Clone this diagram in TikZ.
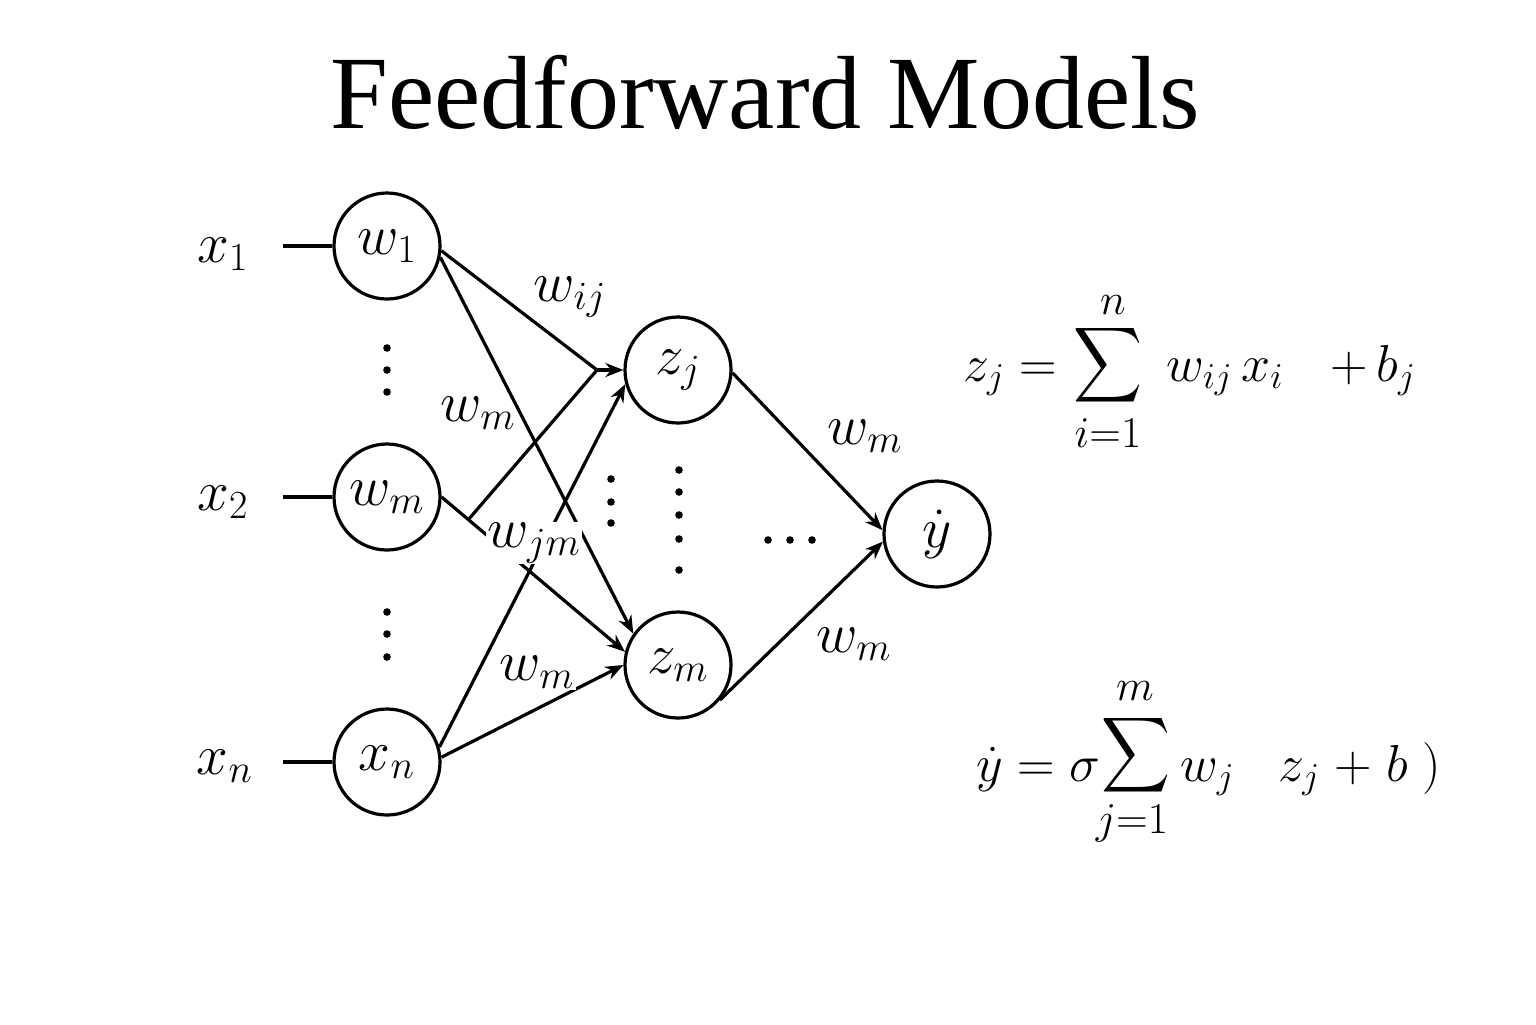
\RequirePackage{fix-cm}
\documentclass[tikz,border=0pt]{standalone}
\usepackage{fontspec}
\usepackage{graphicx}
\newfontfamily\titlefont{Liberation Serif}
\usetikzlibrary{arrows.meta}
\newcommand\netfont{\fontsize{28.5}{34}\selectfont}
\newcommand\eqfont{\fontsize{26}{30}\selectfont}
\newcommand\limfont{\fontsize{22}{26}\selectfont}
\newcommand\bigsum{\resizebox*{34.5pt}{42pt}{$\displaystyle\sum$}}
\begin{document}
\begin{tikzpicture}[x=0.5pt,y=-0.5pt,
  neuron/.style={circle,draw,line width=1.6pt,minimum size=53pt,inner sep=0pt,font=\netfont},
  conn/.style={line width=1.6pt},
  arr/.style={conn,-{Stealth[length=9pt,width=7pt]}},
  lab/.style={font=\netfont,inner sep=0.5pt},
  wlab/.style={lab,fill=white},
  dotc/.style={circle,fill,inner sep=0pt,minimum size=3.8pt},
  eq/.style={font=\eqfont,inner sep=0pt},
  lim/.style={font=\limfont,inner sep=0pt}]
\fill[white] (0,0) rectangle (1536,1024);
\useasboundingbox (0,0) rectangle (1536,1024);

\node[font=\titlefont\fontsize{52}{60}\selectfont, anchor=base, inner sep=0pt] (title) at (765,128) {Feedforward Models};

% neurons
\node[neuron] (w1) at (387,246) {$w_1$};
\node[neuron] (wm) at (387,497) {$w_m$};
\node[neuron] (xn) at (387,762) {$x_n$};
\node[neuron] (zj) at (678,370) {$z_j$};
\node[neuron] (zm) at (678,665) {$z_m$};
\node[neuron] (yh) at (937,534) {$\dot{y}$};

% inputs
\node[lab] (x1) at (223,254) {$x_1$};
\node[lab] (x2) at (223,502) {$x_2$};
\node[lab] (xnl) at (225,766) {$x_n$};
\coordinate (i1) at (283,246);
\coordinate (i2) at (283,497);
\coordinate (i3) at (283,762);
\draw[conn] (i1) -- (w1.west);
\draw[conn] (i2) -- (wm.west);
\draw[conn] (i3) -- (xn.west);

% dots
\foreach \n/\x/\y in {a1/387/348, a2/387/370, a3/387/392,
                      b1/387/612, b2/387/634, b3/387/657,
                      c1/611/479, c2/611/502, c3/611/523,
                      d1/679/470, d2/679/492, d3/679/515, d4/679/539, d5/679/570,
                      e1/768/540, e2/790/540, e3/812/540}
  \node[dotc] (\n) at (\x,\y) {};

% connections
\coordinate (J) at (597,370);
\draw[conn] (w1.-5) -- (J);
\draw[arr] (J) -- (zj.west);
\draw[arr] (w1.-12) -- (zm.145);
\draw[arr] (wm.east) -- (zm.166) coordinate[pos=0.146] (B);
\draw[conn] (B) -- (J);
\draw[arr] (xn.16) -- (zj.195);
\draw[arr] (xn.5) -- (zm.west);
\draw[arr] (zj.-3) -- (yh.176);
\draw[arr] (zm.-40) -- (yh.188);

% weight labels
\node[lab] (lwij) at (570,297) {$w_{ij}$};
\node[lab] (lwm1) at (478,413) {$w_m$};
\node[wlab] (lwjm) at (534,543) {$w_{jm}$};
\node[wlab] (lwm2) at (537,672) {$w_m$};
\node[lab] (lwm3) at (865,436) {$w_m$};
\node[lab] (lwm4) at (854,644) {$w_m$};

% equation 1
\node[eq, anchor=base west] (e1l) at (963,381) {$z_j =$};
\node[inner sep=0pt] (s1) at (1107.5,365) {\bigsum};
\node[lim] (s1t) at (1113,305) {$n$};
\node[lim] (s1b) at (1108,433) {$i{=}1$};
\node[eq, anchor=base west] (e1r) at (1166,381) {$w_{ij}\,x_i\hspace{0.9em}{+}\,b_j$};

% equation 2
\node[eq, anchor=base west] (e2l) at (976,781) {$\dot{y} = \sigma$};
\node[inner sep=0pt] (s2) at (1136,755) {\bigsum};
\node[lim] (s2t) at (1135,691) {$m$};
\node[lim] (s2b) at (1132,823) {$j{=}1$};
\node[eq, anchor=base west] (e2r) at (1180,781) {$w_j\hspace{0.85em}z_j\;{+}\;b\;)$};
\end{tikzpicture}
\end{document}
